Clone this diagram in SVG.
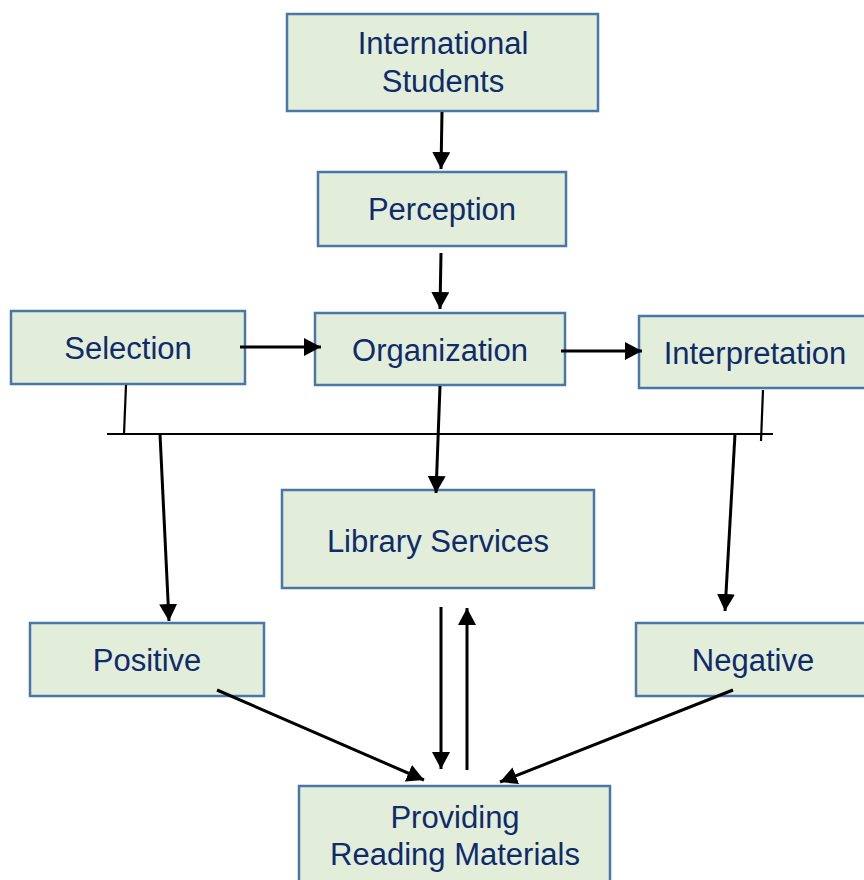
<svg xmlns="http://www.w3.org/2000/svg" width="864" height="880" viewBox="0 0 864 880">
<style>
.box{fill:#e2eed9;stroke:#4a76a8;stroke-width:2.5}
.t{font-family:"Liberation Sans",Arial,sans-serif;font-size:31px;fill:#0f2b6b;text-anchor:middle}
.a{stroke:#000;stroke-width:3;fill:none;marker-end:url(#ah)}
.l{stroke:#000;stroke-width:2.2;fill:none}
</style>
<defs>
<marker id="ah" markerUnits="userSpaceOnUse" markerWidth="18" markerHeight="18" refX="17" refY="9" orient="auto">
<path d="M0,0 L17,9 L0,18 Z" fill="#000"/>
</marker>
</defs>
<rect width="864" height="880" fill="#fff"/>
<g id="international-students">
<rect class="box" x="287" y="14" width="311" height="97"/>
<text class="t" x="443" y="54">International</text>
<text class="t" x="443" y="92">Students</text>
</g>
<g id="perception">
<rect class="box" x="318" y="172" width="248" height="74"/>
<text class="t" x="442" y="220">Perception</text>
</g>
<g id="selection">
<rect class="box" x="11" y="311" width="234" height="73"/>
<text class="t" x="128" y="359">Selection</text>
</g>
<g id="organization">
<rect class="box" x="315" y="313" width="250" height="72"/>
<text class="t" x="440" y="361">Organization</text>
</g>
<g id="interpretation">
<rect class="box" x="639" y="316" width="232" height="72"/>
<text class="t" x="755" y="364">Interpretation</text>
</g>
<g id="library-services">
<rect class="box" x="282" y="490" width="312" height="98"/>
<text class="t" x="438" y="552">Library Services</text>
</g>
<g id="positive">
<rect class="box" x="30" y="623" width="234" height="73"/>
<text class="t" x="147" y="671">Positive</text>
</g>
<g id="negative">
<rect class="box" x="636" y="623" width="234" height="73"/>
<text class="t" x="753" y="671">Negative</text>
</g>
<g id="providing-reading-materials">
<rect class="box" x="299" y="786" width="311" height="100"/>
<text class="t" x="455" y="828">Providing</text>
<text class="t" x="455" y="865">Reading Materials</text>
</g>
<g id="connectors">
<line class="a" x1="442" y1="112" x2="441" y2="169"/>
<line class="a" x1="441" y1="253" x2="440" y2="309"/>
<line class="a" x1="240" y1="347" x2="321" y2="347"/>
<line class="a" x1="561" y1="351" x2="642" y2="351"/>
<line class="l" x1="126" y1="385" x2="124" y2="434"/>
<line class="l" x1="763" y1="390" x2="761" y2="441"/>
<line class="l" x1="107" y1="434" x2="773" y2="434"/>
<line class="a" x1="440" y1="386" x2="436" y2="493"/>
<line class="a" x1="160" y1="434" x2="169" y2="621"/>
<line class="a" x1="735" y1="434" x2="725" y2="611"/>
<line class="a" x1="441" y1="607" x2="441" y2="769"/>
<line class="a" x1="467" y1="770" x2="467" y2="608"/>
<line class="a" x1="217" y1="690" x2="424" y2="780"/>
<line class="a" x1="733" y1="690" x2="500" y2="782"/>
</g>
</svg>
